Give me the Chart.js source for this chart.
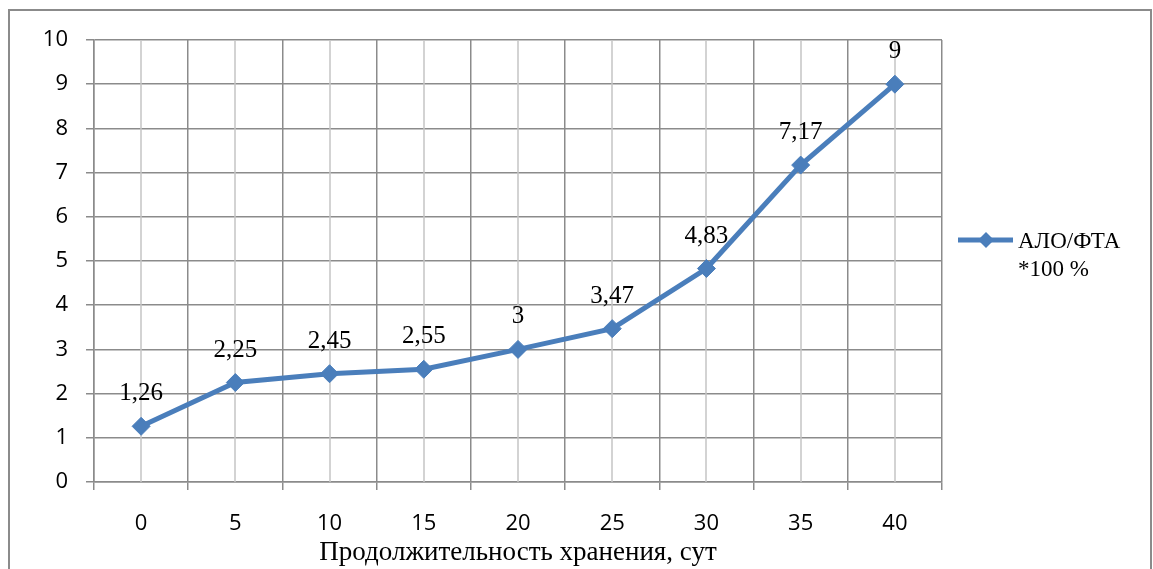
<!DOCTYPE html>
<html>
<head>
<meta charset="utf-8">
<script src="https://cdn.jsdelivr.net/npm/chart.js@4/dist/chart.umd.min.js"></script>
<style>
  html, body { margin: 0; padding: 0; background: #fff; }
  #wrap { width: 1153px; height: 569px; position: relative; }
</style>
</head>
<body>
<div id="wrap"><canvas id="c" width="1153" height="569"></canvas></div>
<script>
// Storage time, days
const categories = ['0', '5', '10', '15', '20', '25', '30', '35', '40'];
// АЛО/ФТА ratio, *100 %
const ratioValues = [1.26, 2.25, 2.45, 2.55, 3, 3.47, 4.83, 7.17, 9];
const valueLabels = ratioValues.map(v => String(v).replace('.', ','));
const yMin = 0;
const yMax = 10;
const yStep = 1;
const seriesLines = ['АЛО/ФТА', '*100 %'];
const xTitle = 'Продолжительность хранения, сут';

const LINE_BLUE = '#4A7EBB';
const GRID_DARK = '#8b8b8b';
const GRID_LIGHT = '#c4c4c4';
const SERIF = '"Liberation Serif", "Times New Roman", serif';
const SANS = '"Open Sans", "Liberation Sans", sans-serif';

// Outer frame round the whole chart
const framePlugin = {
  id: 'frame',
  beforeDraw(chart) {
    const ctx = chart.ctx;
    ctx.save();
    ctx.fillStyle = '#fff';
    ctx.fillRect(0, 0, chart.width, chart.height);
    ctx.strokeStyle = GRID_DARK;
    ctx.lineWidth = 2;
    ctx.strokeRect(9, 10, 1142, 620);
    ctx.restore();
  }
};

// Light vertical lines through each category centre
const centreGridPlugin = {
  id: 'centreGrid',
  beforeDatasetsDraw(chart) {
    const { ctx, chartArea, scales } = chart;
    ctx.save();
    ctx.strokeStyle = GRID_LIGHT;
    ctx.lineWidth = 1.5;
    categories.forEach((_, i) => {
      const x = Math.round(scales.x.getPixelForValue(i));
      ctx.beginPath();
      ctx.moveTo(x, chartArea.top);
      ctx.lineTo(x, chartArea.bottom);
      ctx.stroke();
    });
    ctx.restore();
  }
};

// Value labels above each point
const valueLabelPlugin = {
  id: 'valueLabels',
  afterDatasetsDraw(chart) {
    const ctx = chart.ctx;
    const meta = chart.getDatasetMeta(0);
    ctx.save();
    ctx.font = '25px ' + SERIF;
    ctx.fillStyle = '#000';
    ctx.textAlign = 'center';
    ctx.textBaseline = 'alphabetic';
    meta.data.forEach((pt, i) => {
      ctx.fillText(valueLabels[i], pt.x, pt.y - 26);
    });
    ctx.restore();
  }
};

// Legend on the right: line sample with diamond and a two-line name
const legendPlugin = {
  id: 'sideLegend',
  afterDraw(chart) {
    const ctx = chart.ctx;
    const y = 240;
    ctx.save();
    ctx.strokeStyle = LINE_BLUE;
    ctx.lineWidth = 5;
    ctx.beginPath();
    ctx.moveTo(958, y);
    ctx.lineTo(1013, y);
    ctx.stroke();
    ctx.fillStyle = LINE_BLUE;
    ctx.beginPath();
    ctx.moveTo(986, y - 8);
    ctx.lineTo(994, y);
    ctx.lineTo(986, y + 8);
    ctx.lineTo(978, y);
    ctx.closePath();
    ctx.fill();
    ctx.fillStyle = '#000';
    ctx.font = '23px ' + SERIF;
    ctx.textAlign = 'left';
    ctx.textBaseline = 'alphabetic';
    ctx.fillText(seriesLines[0], 1018, 248);
    ctx.fillText(seriesLines[1], 1018, 276);
    ctx.restore();
  }
};

new Chart(document.getElementById('c'), {
  type: 'line',
  data: {
    labels: categories,
    datasets: [{
      label: seriesLines.join(' '),
      data: ratioValues,
      borderColor: LINE_BLUE,
      backgroundColor: LINE_BLUE,
      borderWidth: 5,
      pointStyle: 'rectRot',
      pointRadius: 9,
      pointBorderWidth: 1,
      pointBackgroundColor: LINE_BLUE,
      pointBorderColor: LINE_BLUE,
      tension: 0,
      fill: false
    }]
  },
  options: {
    responsive: false,
    devicePixelRatio: 1,
    animation: false,
    layout: { padding: { left: 0, top: 40, right: 211, bottom: 0 } },
    plugins: {
      legend: { display: false },
      tooltip: { enabled: false }
    },
    scales: {
      x: {
        type: 'category',
        offset: true,
        grid: { offset: true, color: GRID_DARK, lineWidth: 1.5, tickLength: 8, tickColor: GRID_DARK },
        border: { color: GRID_DARK, width: 1.5 },
        ticks: { color: '#000', font: { family: SANS, size: 22 }, padding: 21, maxRotation: 0, autoSkip: false },
        title: { display: true, text: xTitle, color: '#000', font: { family: SERIF, size: 27 }, padding: { top: 0, bottom: 0 } },
        afterFit(scale) { scale.height = 87; }
      },
      y: {
        min: yMin,
        max: yMax,
        grid: { color: GRID_DARK, lineWidth: 1.5, tickLength: 8, tickColor: GRID_DARK },
        border: { color: GRID_DARK, width: 1.5 },
        ticks: { stepSize: yStep, color: '#000', font: { family: SANS, size: 22 }, padding: 18 },
        afterFit(scale) { scale.width = 94; }
      }
    }
  },
  plugins: [framePlugin, centreGridPlugin, valueLabelPlugin, legendPlugin]
});
</script>
</body>
</html>
